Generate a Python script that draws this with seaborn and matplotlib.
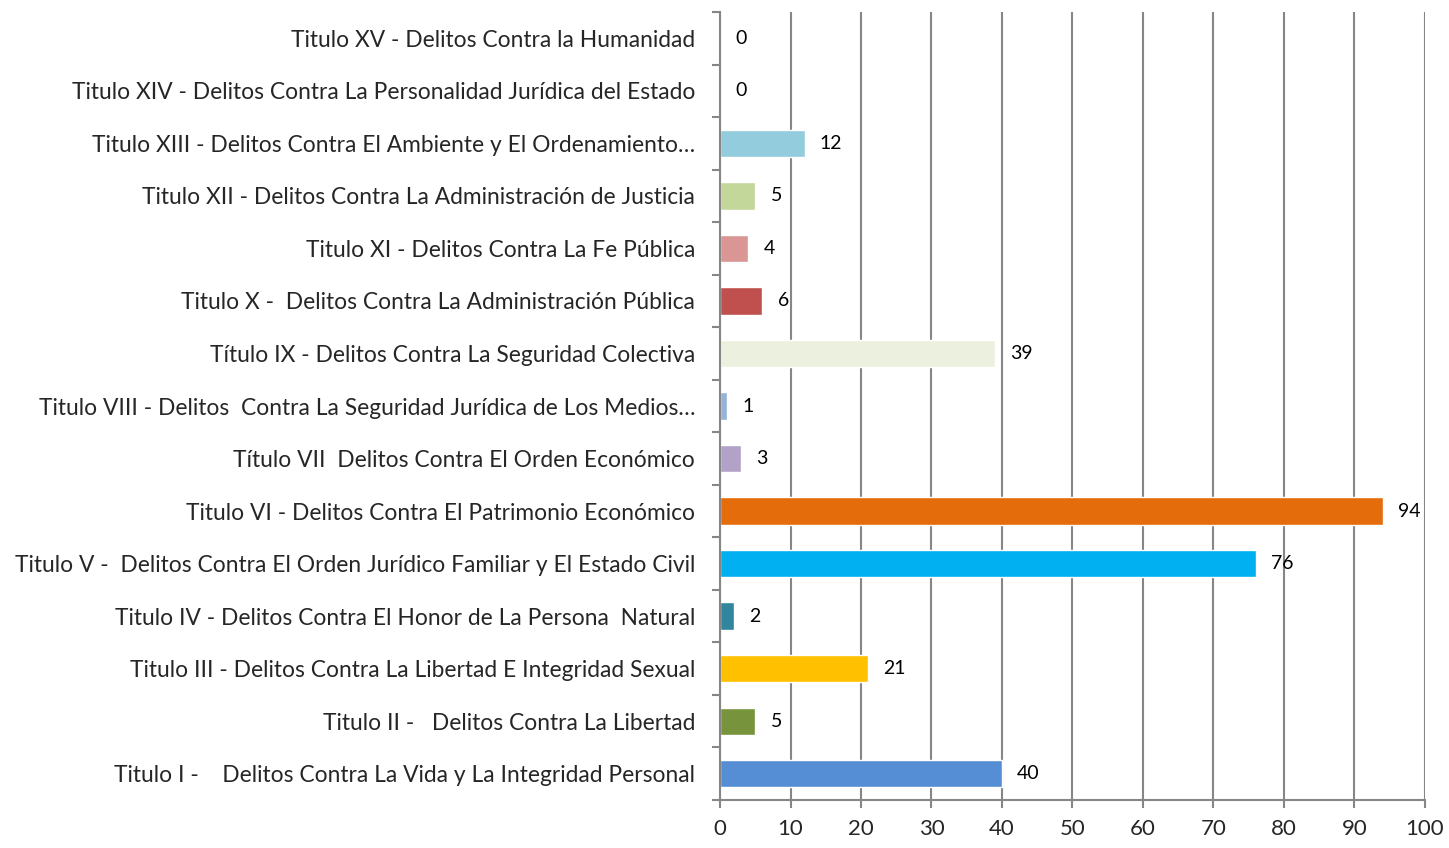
import pandas as pd
import numpy as np
import matplotlib.pyplot as plt
import seaborn as sns
from matplotlib.ticker import FixedLocator

# categories from top to bottom, as shown in the chart
categories = [
    "Titulo XV - Delitos Contra la Humanidad",
    "Titulo XIV - Delitos Contra La Personalidad Jurídica del Estado",
    "Titulo XIII - Delitos Contra El Ambiente y El Ordenamiento…",
    "Titulo XII - Delitos Contra La Administración de Justicia",
    "Titulo XI - Delitos Contra La Fe Pública",
    "Titulo X -  Delitos Contra La Administración Pública",
    "Título IX - Delitos Contra La Seguridad Colectiva",
    "Titulo VIII - Delitos  Contra La Seguridad Jurídica de Los Medios…",
    "Título VII  Delitos Contra El Orden Económico",
    "Titulo VI - Delitos Contra El Patrimonio Económico",
    "Titulo V -  Delitos Contra El Orden Jurídico Familiar y El Estado Civil",
    "Titulo IV - Delitos Contra El Honor de La Persona  Natural",
    "Titulo III - Delitos Contra La Libertad E Integridad Sexual",
    "Titulo II -   Delitos Contra La Libertad",
    "Titulo I -    Delitos Contra La Vida y La Integridad Personal",
]
counts = [0, 0, 12, 5, 4, 6, 39, 1, 3, 94, 76, 2, 21, 5, 40]
bar_colors = [
    "#FFFFFF", "#FFFFFF", "#93CDDD", "#C4D79B", "#D99694", "#C0504D",
    "#EBF1DE", "#95B3D7", "#B3A2C7", "#E46C0A", "#00B0F0", "#31859C",
    "#FFC000", "#77933C", "#558ED5",
]
x_ticks = list(range(0, 101, 10))

df = pd.DataFrame({"titulo": categories, "n": counts})

sns.set_theme(style="white")
plt.rcParams["font.family"] = ["Lato", "DejaVu Sans"]

fig = plt.figure(figsize=(14.49, 8.48), dpi=100)
ax = fig.add_axes([0.4969, 0.0566, 0.4865, 0.9292])

sns.barplot(data=df, x="n", y="titulo", hue="titulo", order=categories,
            hue_order=categories, palette=bar_colors, orient="h",
            width=0.52, legend=False, ax=ax, saturation=1)

for cont in ax.containers:
    ax.bar_label(cont, fmt="%d", padding=11, fontsize=14, color="black")

grid_c = "#868686"
ax.set_xlim(0, 100)
ax.set_ylim(len(categories) - 0.5, -0.5)
ax.set_xticks(x_ticks)
ax.xaxis.grid(True, color=grid_c, linewidth=1.5)
ax.set_axisbelow(True)
ax.tick_params(axis="x", which="major", direction="out", length=6, width=1.5,
               color=grid_c, labelsize=16, pad=8, bottom=True)

ax.tick_params(axis="y", which="major", length=0, labelsize=16.4, pad=18)
ax.yaxis.set_minor_locator(FixedLocator(np.arange(-0.5, len(categories), 1)))
ax.tick_params(axis="y", which="minor", direction="out", length=6, width=1.5,
               color=grid_c, left=True)

ax.set_xlabel("")
ax.set_ylabel("")
for side in ["top", "right"]:
    ax.spines[side].set_visible(False)
for side in ["left", "bottom"]:
    ax.spines[side].set_color(grid_c)
    ax.spines[side].set_linewidth(1.5)

fig.savefig("out.png", dpi=100)
